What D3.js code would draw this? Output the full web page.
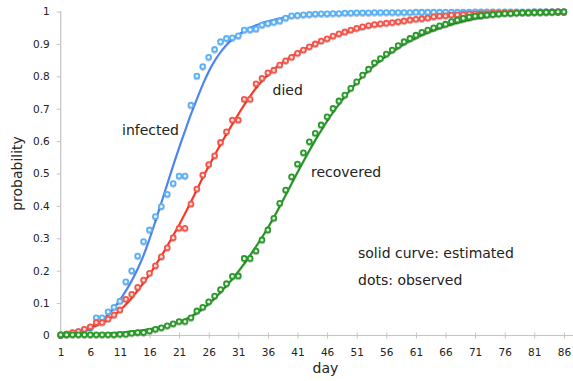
<!DOCTYPE html>
<html>
<head>
<meta charset="utf-8">
<script src="https://cdn.jsdelivr.net/npm/d3@7"></script>
<style>
  html, body { margin: 0; padding: 0; background: #fff; }
  svg { display: block; }
  text { font-family: "DejaVu Sans", Verdana, sans-serif; fill: #222; }
</style>
</head>
<body>
<svg id="chart" width="573" height="381"></svg>
<script>
// Day index (category axis) and labelled ticks
const days = d3.range(1, 87);
const xTickDays = [1, 6, 11, 16, 21, 26, 31, 36, 41, 46, 51, 56, 61, 66, 71, 76, 81, 86];
const yTickValues = [0, 0.1, 0.2, 0.3, 0.4, 0.5, 0.6, 0.7, 0.8, 0.9, 1];
const yTickLabels = ["0", "0.1", "0.2", "0.3", "0.4", "0.5", "0.6", "0.7", "0.8", "0.9", "1"];

// Observed cumulative probabilities, day 1..86
const infectedObserved = [
  0.002, 0.004, 0.008, 0.012, 0.018, 0.024, 0.055, 0.055, 0.073, 0.087,
  0.106, 0.166, 0.200, 0.245, 0.290, 0.326, 0.367, 0.398, 0.436, 0.469,
  0.492, 0.492, 0.711, 0.801, 0.830, 0.859, 0.883, 0.907, 0.917, 0.919,
  0.925, 0.943, 0.944, 0.946, 0.958, 0.963, 0.967, 0.971, 0.980, 0.987,
  0.988, 0.990, 0.991, 0.992, 0.993, 0.993, 0.994, 0.994, 0.995, 0.995,
  0.996, 0.996, 0.996, 0.997, 0.997, 0.997, 0.997, 0.997, 0.997, 0.997,
  0.998, 0.998, 0.998, 0.998, 0.998, 0.998, 0.998, 0.998, 0.998, 0.998,
  0.999, 0.999, 0.999, 0.999, 0.999, 0.999, 0.999, 0.999, 0.999, 0.999,
  1.000, 1.000, 1.000, 1.000, 1.000, 1.000
];
const diedObserved = [
  0.002, 0.005, 0.009, 0.012, 0.019, 0.027, 0.040, 0.040, 0.051, 0.063,
  0.079, 0.112, 0.127, 0.149, 0.171, 0.192, 0.215, 0.243, 0.271, 0.302,
  0.331, 0.331, 0.406, 0.452, 0.495, 0.528, 0.555, 0.596, 0.629, 0.665,
  0.665, 0.729, 0.729, 0.777, 0.794, 0.811, 0.819, 0.835, 0.848, 0.859,
  0.871, 0.881, 0.891, 0.900, 0.909, 0.916, 0.924, 0.931, 0.937, 0.943,
  0.948, 0.953, 0.957, 0.960, 0.962, 0.964, 0.966, 0.968, 0.971, 0.974,
  0.976, 0.978, 0.980, 0.984, 0.986, 0.987, 0.989, 0.990, 0.991, 0.992,
  0.993, 0.994, 0.994, 0.995, 0.995, 0.996, 0.996, 0.997, 0.997, 0.997,
  0.998, 0.998, 0.998, 0.999, 0.999, 0.999
];
const recoveredObserved = [
  0.002, 0.002, 0.002, 0.002, 0.002, 0.002, 0.002, 0.002, 0.002, 0.002,
  0.004, 0.004, 0.007, 0.009, 0.009, 0.014, 0.019, 0.024, 0.030, 0.036,
  0.043, 0.043, 0.055, 0.076, 0.087, 0.104, 0.122, 0.142, 0.160, 0.183,
  0.184, 0.238, 0.238, 0.261, 0.295, 0.326, 0.362, 0.408, 0.449, 0.490,
  0.529, 0.564, 0.598, 0.624, 0.650, 0.675, 0.701, 0.724, 0.742, 0.763,
  0.783, 0.804, 0.822, 0.842, 0.855, 0.869, 0.881, 0.895, 0.907, 0.917,
  0.927, 0.936, 0.943, 0.950, 0.956, 0.961, 0.969, 0.974, 0.979, 0.983,
  0.986, 0.988, 0.989, 0.991, 0.992, 0.994, 0.994, 0.995, 0.996, 0.996,
  0.997, 0.997, 0.998, 0.998, 0.999, 0.999
];

// Estimated (fitted) curves, day 1..86
const infectedEstimated = [
  0.006, 0.008, 0.011, 0.015, 0.020, 0.027, 0.036, 0.048, 0.064, 0.085,
  0.110, 0.138, 0.170, 0.206, 0.248, 0.298, 0.353, 0.410, 0.468, 0.525,
  0.580, 0.632, 0.683, 0.730, 0.775, 0.815, 0.848, 0.875, 0.897, 0.915,
  0.929, 0.940, 0.950, 0.958, 0.965, 0.970, 0.975, 0.979, 0.983, 0.986,
  0.988, 0.990, 0.991, 0.992, 0.993, 0.994, 0.995, 0.995, 0.996, 0.996,
  0.997, 0.997, 0.997, 0.997, 0.997, 0.997, 0.997, 0.997, 0.997, 0.997,
  0.998, 0.998, 0.998, 0.998, 0.998, 0.998, 0.998, 0.998, 0.998, 0.998,
  0.998, 0.998, 0.998, 0.998, 0.998, 0.999, 0.999, 0.999, 0.999, 0.999,
  0.999, 0.999, 0.999, 0.999, 0.999, 0.999
];
const diedEstimated = [
  0.003, 0.005, 0.008, 0.012, 0.017, 0.023, 0.031, 0.040, 0.050, 0.063,
  0.078, 0.096, 0.116, 0.139, 0.163, 0.189, 0.217, 0.246, 0.277, 0.309,
  0.342, 0.377, 0.413, 0.450, 0.488, 0.523, 0.557, 0.590, 0.622, 0.653,
  0.683, 0.712, 0.739, 0.764, 0.786, 0.805, 0.822, 0.837, 0.850, 0.862,
  0.873, 0.883, 0.892, 0.901, 0.909, 0.916, 0.923, 0.929, 0.935, 0.940,
  0.945, 0.950, 0.954, 0.958, 0.961, 0.964, 0.967, 0.970, 0.972, 0.975,
  0.977, 0.979, 0.981, 0.983, 0.984, 0.986, 0.987, 0.988, 0.989, 0.990,
  0.991, 0.992, 0.993, 0.994, 0.994, 0.995, 0.995, 0.996, 0.996, 0.997,
  0.997, 0.998, 0.998, 0.998, 0.999, 0.999
];
const recoveredEstimated = [
  0.002, 0.002, 0.003, 0.003, 0.004, 0.004, 0.005, 0.006, 0.007, 0.008,
  0.009, 0.011, 0.013, 0.015, 0.017, 0.020, 0.023, 0.027, 0.031, 0.036,
  0.042, 0.050, 0.059, 0.070, 0.083, 0.098, 0.115, 0.134, 0.154, 0.175,
  0.198, 0.222, 0.248, 0.275, 0.303, 0.333, 0.365, 0.399, 0.434, 0.469,
  0.504, 0.538, 0.571, 0.603, 0.633, 0.662, 0.689, 0.714, 0.738, 0.760,
  0.781, 0.800, 0.818, 0.834, 0.849, 0.863, 0.876, 0.888, 0.899, 0.909,
  0.918, 0.927, 0.935, 0.942, 0.949, 0.955, 0.960, 0.965, 0.970, 0.974,
  0.978, 0.981, 0.984, 0.987, 0.989, 0.991, 0.993, 0.994, 0.995, 0.996,
  0.997, 0.997, 0.998, 0.998, 0.999, 0.999
];

const series = [
  { name: "infected",  observed: infectedObserved,  estimated: infectedEstimated,
    line: "#4a84f2", ring: "#5cb0f6", fill: "#e6f5ff" },
  { name: "died",      observed: diedObserved,      estimated: diedEstimated,
    line: "#ff3322", ring: "#f4564c", fill: "#ffe2df" },
  { name: "recovered", observed: recoveredObserved, estimated: recoveredEstimated,
    line: "#1f971f", ring: "#2c992c", fill: "#e8f8e4" }
];

const svg = d3.select("#chart");
const x0 = 60.7, x1 = 563.9, yTop = 11.5, yBottom = 335.5;

const x = d3.scaleLinear().domain([1, 86]).range([x0, x1]);
const y = d3.scaleLinear().domain([0, 1]).range([yBottom, yTop]);

const axisColor = "#c4c4c4";

// Y axis
const yAxis = d3.axisLeft(y)
  .tickValues(yTickValues)
  .tickFormat((d, i) => yTickLabels[i])
  .tickSize(4)
  .tickPadding(7);
const gy = svg.append("g").attr("transform", `translate(${x0},0)`).call(yAxis);
gy.select(".domain").remove();
gy.selectAll(".tick line").attr("stroke", axisColor);
gy.selectAll(".tick text").attr("font-size", 10.5).attr("fill", "#222")
  .style("font-family", "'DejaVu Sans', sans-serif");
svg.append("line")
  .attr("x1", x0).attr("x2", x0).attr("y1", yTop - 0.5).attr("y2", yBottom)
  .attr("stroke", axisColor).attr("stroke-width", 1.2);

// X axis
const xAxis = d3.axisBottom(x)
  .tickValues(xTickDays)
  .tickFormat(d3.format("d"))
  .tickSize(4)
  .tickPadding(9);
const gx = svg.append("g").attr("transform", `translate(0,${yBottom})`).call(xAxis);
gx.select(".domain").remove();
gx.selectAll(".tick line").attr("stroke", axisColor).attr("y1", -3).attr("y2", 3);
gx.selectAll(".tick text").attr("font-size", 10.5).attr("fill", "#222")
  .style("font-family", "'DejaVu Sans', sans-serif");
svg.append("line")
  .attr("x1", x0).attr("x2", 573).attr("y1", yBottom).attr("y2", yBottom)
  .attr("stroke", axisColor).attr("stroke-width", 1.2);

// Axis titles
svg.append("text")
  .attr("x", 325.5).attr("y", 373)
  .attr("text-anchor", "middle")
  .attr("font-size", 14)
  .text("day");
svg.append("text")
  .attr("transform", `translate(22,${(yTop + yBottom) / 2}) rotate(-90)`)
  .attr("text-anchor", "middle")
  .attr("font-size", 14)
  .text("probability");

// Soft shadow under marks
const defs = svg.append("defs");
const shadow = defs.append("filter").attr("id", "shadow")
  .attr("x", "-50%").attr("y", "-50%").attr("width", "200%").attr("height", "200%");
shadow.append("feDropShadow")
  .attr("dx", 0).attr("dy", 1).attr("stdDeviation", 0.6)
  .attr("flood-color", "#000").attr("flood-opacity", 0.25);

const line = d3.line()
  .x((d, i) => x(days[i]))
  .y(d => y(d))
  .curve(d3.curveMonotoneX);

series.forEach(s => {
  const g = svg.append("g").attr("class", "series " + s.name);
  g.append("path")
    .datum(s.estimated)
    .attr("d", line)
    .attr("fill", "none")
    .attr("stroke", s.line)
    .attr("stroke-width", 2)
    .attr("filter", "url(#shadow)");
  g.selectAll("circle")
    .data(s.observed)
    .join("circle")
    .attr("cx", (d, i) => x(days[i]))
    .attr("cy", d => y(d))
    .attr("r", 2.4)
    .attr("fill", s.fill)
    .attr("stroke", s.ring)
    .attr("stroke-width", 1.8)
    .attr("filter", "url(#shadow)");
});

// Curve labels and notes
const notes = [
  { text: "infected", x: 122, y: 135 },
  { text: "died", x: 272.5, y: 95 },
  { text: "recovered", x: 311, y: 177 },
  { text: "solid curve: estimated", x: 358, y: 258 },
  { text: "dots: observed", x: 358, y: 285 }
];
svg.selectAll("text.note")
  .data(notes)
  .join("text")
  .attr("class", "note")
  .attr("x", d => d.x)
  .attr("y", d => d.y)
  .attr("font-size", 14)
  .text(d => d.text);
</script>
</body>
</html>
